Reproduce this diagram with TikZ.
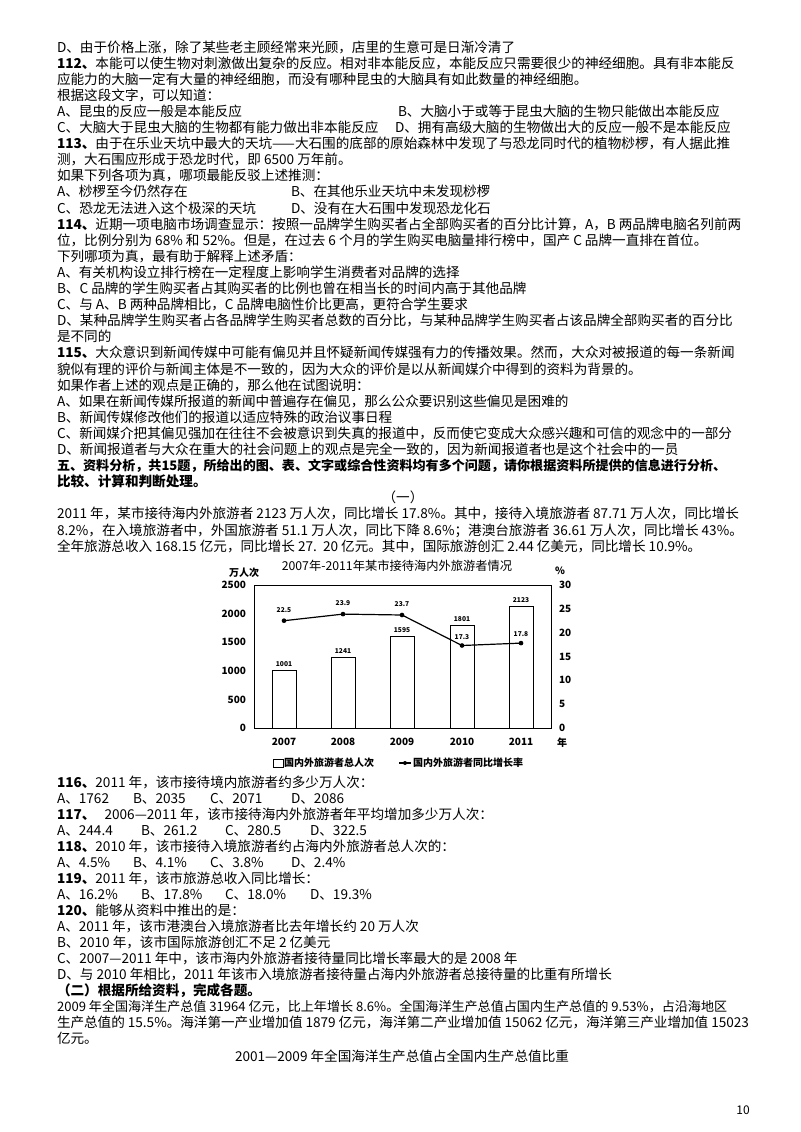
\documentclass[tikz,border=0pt]{standalone}
\usepackage{fontspec}
\setmainfont{Noto Sans CJK SC}
\XeTeXlinebreaklocale "zh"
\XeTeXlinebreakskip=0pt plus 1.5pt minus 0.2pt
\newcommand\fs{\fontsize{10.2pt}{12pt}\selectfont}
\newcommand\fsb{\fontsize{9.8pt}{12pt}\selectfont}
\newcommand\fl[1]{\parfillskip=0pt\relax #1}
\newcommand\qn[1]{\textbf{#1}}
\begin{document}
\begin{tikzpicture}[x=0.75pt,y=-0.75pt,
  every node/.style={inner sep=0pt,outer sep=0pt},
  txt/.style={anchor=base west,font=\fs},
  full/.style={anchor=base west,text width=519pt,align=justify,font=\fs},
  ctr/.style={anchor=base,font=\fs},
  bar/.style={draw=black,fill=white,line width=0.6pt},
  ax/.style={font=\fontsize{7.5pt}{8pt}\selectfont\bfseries},
  dl/.style={font=\fontsize{5pt}{6pt}\selectfont\bfseries,anchor=base},
  pt/.style={circle,fill=black,minimum size=3.5pt}]
\useasboundingbox (0,0) rectangle (800,1132);
\fill[white] (0,0) rectangle (800,1132);
% ---------- upper text ----------
\node[txt] (l0) at (57,52) {D、由于价格上涨，除了某些老主顾经常来光顾，店里的生意可是日渐冷清了};
\node[full] (l1) at (57,68.1) {\fl{\qn{112、}本能可以使生物对刺激做出复杂的反应。相对非本能反应，本能反应只需要很少的神经细胞。具有非本能反}};
\node[txt] (l2) at (57,84.2) {应能力的大脑一定有大量的神经细胞，而没有哪种昆虫的大脑具有如此数量的神经细胞。};
\node[txt] (l3) at (57,100.3) {根据这段文字，可以知道：};
\node[txt] (l4a) at (57,116.4) {A、昆虫的反应一般是本能反应};
\node[txt] (l4b) at (398,116.4) {B、大脑小于或等于昆虫大脑的生物只能做出本能反应};
\node[txt] (l5a) at (57,132.5) {C、大脑大于昆虫大脑的生物都有能力做出非本能反应};
\node[txt] (l5b) at (395,132.5) {D、拥有高级大脑的生物做出大的反应一般不是本能反应};
\node[full] (l6) at (57,148.6) {\fl{\qn{113、}由于在乐业天坑中最大的天坑——大石围的底部的原始森林中发现了与恐龙同时代的植物桫椤，有人据此推}};
\node[txt] (l7) at (57,164.7) {测，大石围应形成于恐龙时代，即 6500 万年前。};
\node[txt] (l8) at (57,180.8) {如果下列各项为真，哪项最能反驳上述推测：};
\node[txt] (l9a) at (57,196.9) {A、桫椤至今仍然存在};
\node[txt] (l9b) at (291,196.9) {B、在其他乐业天坑中未发现桫椤};
\node[txt] (l10a) at (57,213) {C、恐龙无法进入这个极深的天坑};
\node[txt] (l10b) at (291,213) {D、没有在大石围中发现恐龙化石};
\node[full] (l11) at (57,229.1) {\fl{\qn{114、}近期一项电脑市场调查显示：按照一品牌学生购买者占全部购买者的百分比计算，A，B 两品牌电脑名列前两}};
\node[txt] (l12) at (57,245.2) {位，比例分别为 68\% 和 52\%。但是，在过去 6 个月的学生购买电脑量排行榜中，国产 C 品牌一直排在首位。};
\node[txt] (l13) at (57,261.3) {下列哪项为真，最有助于解释上述矛盾：};
\node[txt] (l14) at (57,277.4) {A、有关机构设立排行榜在一定程度上影响学生消费者对品牌的选择};
\node[txt] (l15) at (57,293.5) {B、C 品牌的学生购买者占其购买者的比例也曾在相当长的时间内高于其他品牌};
\node[txt] (l16) at (57,309.6) {C、与 A、B 两种品牌相比，C 品牌电脑性价比更高，更符合学生要求};
\node[full] (l17) at (57,325.7) {\fl{D、某种品牌学生购买者占各品牌学生购买者总数的百分比，与某种品牌学生购买者占该品牌全部购买者的百分比}};
\node[txt] (l18) at (57,341.8) {是不同的};
\node[full] (l19) at (57,357.9) {\fl{\qn{115、}大众意识到新闻传媒中可能有偏见并且怀疑新闻传媒强有力的传播效果。然而，大众对被报道的每一条新闻}};
\node[txt] (l20) at (57,374) {貌似有理的评价与新闻主体是不一致的，因为大众的评价是以从新闻媒介中得到的资料为背景的。};
\node[txt] (l21) at (57,390.1) {如果作者上述的观点是正确的，那么他在试图说明：};
\node[txt] (l22) at (57,406.2) {A、如果在新闻传媒所报道的新闻中普遍存在偏见，那么公众要识别这些偏见是困难的};
\node[txt] (l23) at (57,422.3) {B、新闻传媒修改他们的报道以适应特殊的政治议事日程};
\node[full] (l24) at (57,438.4) {\fl{C、新闻媒介把其偏见强加在往往不会被意识到失真的报道中，反而使它变成大众感兴趣和可信的观念中的一部分}};
\node[txt] (l25) at (57,454.5) {D、新闻报道者与大众在重大的社会问题上的观点是完全一致的，因为新闻报道者也是这个社会中的一员};
\node[full,font=\fsb] (l26) at (57,470.6) {\fl{\bfseries 五、资料分析，共15题，所给出的图、表、文字或综合性资料均有多个问题，请你根据资料所提供的信息进行分析、}};
\node[txt] (l27) at (57,486.7) {\bfseries 比较、计算和判断处理。};
\node[ctr] (l28) at (403,502.8) {（一）};
\node[full] (l29) at (57,518.9) {\fl{2011 年，某市接待海内外旅游者 2123 万人次，同比增长 17.8\%。其中，接待入境旅游者 87.71 万人次，同比增长}};
\node[full] (l30) at (57,535) {\fl{8.2\%，在入境旅游者中，外国旅游者 51.1 万人次，同比下降 8.6\%；港澳台旅游者 36.61 万人次，同比增长 43\%。}};
\node[full] (l31) at (57,551.1) {\fl{全年旅游总收入 168.15 亿元，同比增长 27.\ \ 20 亿元。其中，国际旅游创汇 2.44 亿美元，同比增长 10.9\%。}};
% ---------- chart ----------
\node[font=\fontsize{9.2pt}{10pt}\selectfont,anchor=center] (ctitle) at (397,566) {2007年-2011年某市接待海内外旅游者情况};
\node[ax,anchor=center] (unitl) at (244,573) {万人次};
\node[ax,anchor=center] (unitr) at (560,571) {\%};
\draw[line width=0.6pt] (254,585) rectangle (551,728);
\foreach \v/\yy in {2500/585,2000/613.6,1500/642.2,1000/670.8,500/699.4,0/728}
  \node[ax,anchor=east] (yl\v) at (246,\yy) {\v};
\foreach \v/\yy in {30/585,25/608.8,20/632.7,15/656.5,10/680.3,5/704.2,0/728}
  \node[ax,anchor=west] (yr\v) at (559,\yy) {\v};
\foreach \n/\xx/\v/\top in {1/284/1001/670.7,2/343/1241/657.0,3/402/1595/636.8,4/462/1801/625.0,5/521/2123/606.6}{
  \draw[bar] (\xx-12,728) rectangle (\xx+12,\top);
  \node[dl] (bv\n) at (\xx,\top-4) {\v};
}
\foreach \n/\xx/\yr in {1/284/2007,2/343/2008,3/402/2009,4/462/2010,5/521/2011}
  \node[ax,anchor=center] (xl\n) at (\xx,742) {\yr};
\node[ax,anchor=center] (nian) at (562,743) {年};
\node[pt] (p1) at (284,620.7) {};
\node[pt] (p2) at (343,614.1) {};
\node[pt] (p3) at (402,615.0) {};
\node[pt] (p4) at (462,645.5) {};
\node[pt] (p5) at (521,643.1) {};
\draw[line width=0.9pt] (p1.center) -- (p2.center) -- (p3.center) -- (p4.center) -- (p5.center);
\node[dl] (pl1) at (284,612) {22.5};
\node[dl] (pl2) at (343,605.5) {23.9};
\node[dl] (pl3) at (402,606.5) {23.7};
\node[dl] (pl4) at (462,639) {17.3};
\node[dl] (pl5) at (521,636.5) {17.8};
\draw[line width=0.6pt] (273,759) rectangle (283,767);
\node[ax,anchor=west] (lg1) at (284,763) {国内外旅游者总人次};
\draw[line width=0.9pt] (399,763) -- (411,763);
\node[pt,minimum size=3pt] (lgp) at (405,763) {};
\node[ax,anchor=west] (lg2) at (413,763) {国内外旅游者同比增长率};
% ---------- lower text ----------
\node[txt] (m0) at (57,787) {\qn{116、}2011 年，该市接待境内旅游者约多少万人次：};
\node[txt] (m1a) at (57,803) {A、1762};
\node[txt] (m1b) at (133,803) {B、2035};
\node[txt] (m1c) at (210,803) {C、2071};
\node[txt] (m1d) at (291,803) {D、2086};
\node[txt] (m2) at (57,819) {\qn{117、}\ \ \ 2006—2011 年，该市接待海内外旅游者年平均增加多少万人次：};
\node[txt] (m3a) at (57,835) {A、244.4};
\node[txt] (m3b) at (141,835) {B、261.2};
\node[txt] (m3c) at (225,835) {C、280.5};
\node[txt] (m3d) at (310,835) {D、322.5};
\node[txt] (m4) at (57,851) {\qn{118、}2010 年，该市接待入境旅游者约占海内外旅游者总人次的：};
\node[txt] (m5a) at (57,867) {A、4.5\%};
\node[txt] (m5b) at (133,867) {B、4.1\%};
\node[txt] (m5c) at (210,867) {C、3.8\%};
\node[txt] (m5d) at (291,867) {D、2.4\%};
\node[txt] (m6) at (57,883) {\qn{119、}2011 年，该市旅游总收入同比增长：};
\node[txt] (m7a) at (57,899) {A、16.2\%};
\node[txt] (m7b) at (141,899) {B、17.8\%};
\node[txt] (m7c) at (225,899) {C、18.0\%};
\node[txt] (m7d) at (310,899) {D、19.3\%};
\node[txt] (m8) at (57,915) {\qn{120、}能够从资料中推出的是：};
\node[txt] (m9) at (57,931) {A、2011 年，该市港澳台入境旅游者比去年增长约 20 万人次};
\node[txt] (m10) at (57,947) {B、2010 年，该市国际旅游创汇不足 2 亿美元};
\node[txt] (m11) at (57,963) {C、2007—2011 年中，该市海内外旅游者接待量同比增长率最大的是 2008 年};
\node[txt] (m12) at (57,979) {D、与 2010 年相比，2011 年该市入境旅游者接待量占海内外旅游者总接待量的比重有所增长};
\node[txt] (m13) at (57,995) {\bfseries （二）根据所给资料，完成各题。};
\node[full,font=\fsb] (m14) at (57,1011) {\fl{2009 年全国海洋生产总值 31964 亿元，比上年增长 8.6\%。全国海洋生产总值占国内生产总值的 9.53\%，占沿海地区}};
\node[full] (m15) at (57,1027) {\fl{生产总值的 15.5\%。海洋第一产业增加值 1879 亿元，海洋第二产业增加值 15062 亿元，海洋第三产业增加值 15023}};
\node[txt] (m16) at (57,1043) {亿元。};
\node[ctr] (m17) at (402,1061) {2001—2009 年全国海洋生产总值占全国内生产总值比重};
\node[anchor=center,font=\fontsize{9pt}{10pt}\selectfont] (pg) at (743,1110) {10};
\end{tikzpicture}
\end{document}
